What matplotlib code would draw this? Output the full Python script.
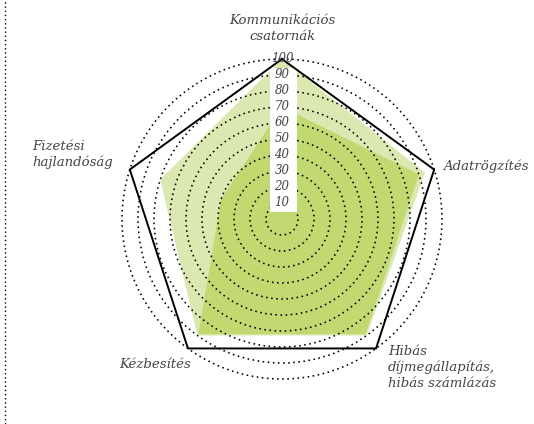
import numpy as np
import matplotlib
matplotlib.use("Agg")
import matplotlib.pyplot as plt
from matplotlib.patches import Rectangle
from matplotlib.lines import Line2D

# ── Data ──────────────────────────────────────────────────────────────────────
categories = ["Kommunikációs\ncsatornák", "Adatrögzítés",
              "Hibás\ndíjmegállapítás,\nhibás számlázás",
              "Kézbesítés", "Fizetési\nhajlandóság"]
series_light = [100, 94, 90, 90, 80]
series_dark = [70, 90, 89, 89, 40]
outline = [100, 100, 100, 100, 100]
r_ticks = [10, 20, 30, 40, 50, 60, 70, 80, 90, 100]

LIGHT = "#dbe8b1"
DARK = "#c1d970"
TXT = "#444444"
FONT = "DejaVu Serif"
RMAX = 102

angles = np.linspace(0, 2 * np.pi, len(categories), endpoint=False)
closed = np.append(angles, angles[0])

def close(v):
    return list(v) + [v[0]]

fig = plt.figure(figsize=(5.34, 4.24), dpi=100)
rad = 160 * RMAX / 100  # pixel radius of the axes
ax = fig.add_axes([(282 - rad)/534, (424 - 219 - rad)/424, 2*rad/534, 2*rad/424],
                  projection="polar")
ax.set_theta_zero_location("N")
ax.set_theta_direction(-1)
ax.set_ylim(0, RMAX)
ax.spines["polar"].set_visible(False)
ax.set_xticks([])
ax.set_rgrids(r_ticks, labels=[""] * len(r_ticks))
ax.yaxis.grid(True, color="black", linestyle=(0, (1, 2.2)), linewidth=1.15)
ax.set_axisbelow(False)

ax.fill(closed, close(series_light), color=LIGHT, zorder=1, lw=0)
ax.fill(closed, close(series_dark), color=DARK, zorder=1.2, lw=0)
ax.plot(closed, close(outline), color="black", lw=1.4, zorder=4, clip_on=False)

# white strip behind the scale labels
x0 = (270 - (282 - rad)) / (2 * rad)
y0 = ((219 + rad) - 212) / (2 * rad)
y1 = ((219 + rad) - 68) / (2 * rad)
ax.add_patch(Rectangle((x0, y0), 27 / (2 * rad), y1 - y0, transform=ax.transAxes,
                       facecolor="white", edgecolor="none", zorder=3, clip_on=False))
for r in r_ticks:
    ax.text(0, r, str(r), ha="center", va="center", fontsize=8.5, family=FONT,
            style="italic", color=TXT, zorder=5)

# category labels
lab_pos = [(0, 110, "center", "bottom", "center"),
           (np.deg2rad(72), 106, "left", "center", "left"),
           (np.deg2rad(140), 103, "left", "top", "left"),
           (np.deg2rad(212), 107, "right", "center", "left"),
           (np.deg2rad(291), 113, "right", "center", "left")]
for lab, (th, r, ha, va, ma) in zip(categories, lab_pos):
    ax.text(th, r, lab, ha=ha, va=va, multialignment=ma, fontsize=9.5,
            family=FONT, style="italic", color=TXT, clip_on=False,
            linespacing=1.25)

fig.add_artist(Line2D([5/534, 5/534], [0, 1], color="black",
                      linestyle=(0, (1, 2)), lw=1.0))

fig.savefig("out.png", dpi=100)
